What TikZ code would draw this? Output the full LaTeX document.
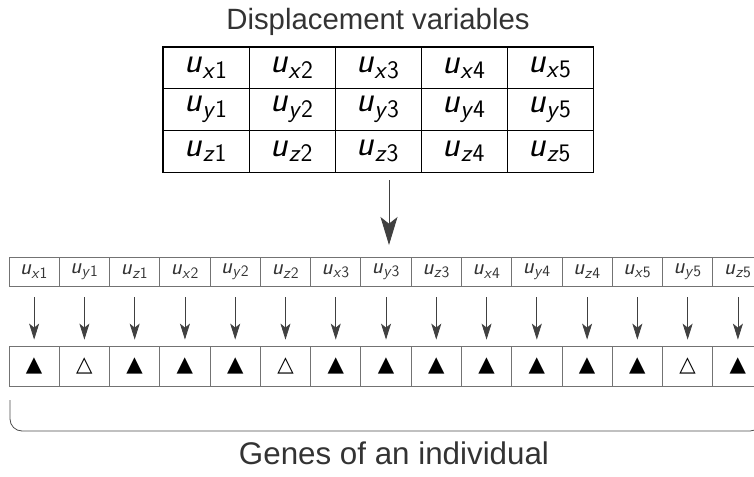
\documentclass[tikz,border=0pt]{standalone}
\usepackage{fontspec}
\setmainfont{Liberation Sans}
\newfontfamily\symfont{DejaVu Sans}
\usetikzlibrary{arrows.meta}
\newcommand\uvar[2]{\textsf{\textit{u}}\textsubscript{\textsf{\textit{#1}#2}}}
\begin{document}
\begin{tikzpicture}[x=0.75pt,y=-0.75pt,
  tcell/.style={draw=black,line width=0.6pt,minimum width=64.5pt,minimum height=31.25pt,inner sep=0pt,font=\fontsize{27}{29}\selectfont},
  gcell/.style={draw=black!55,line width=0.6pt,minimum width=37.7pt,minimum height=21.75pt,inner sep=0pt,font=\fontsize{17}{19}\selectfont,text=black!80},
  bcell/.style={draw=black!55,line width=0.6pt,minimum width=37.7pt,minimum height=30pt,inner sep=0pt,font=\symfont\fontsize{16}{18}\selectfont},
  arr/.style={draw=black!75,line width=0.6pt,-{Stealth[length=12pt,width=7.5pt,inset=3pt]}},
  bigarr/.style={draw=black!75,line width=0.7pt,-{Stealth[length=21pt,width=12.75pt,inset=5pt]}},
  bigtext/.style={text=black!80,inner sep=0pt,anchor=base}
]
\useasboundingbox (0,0) rectangle (754,476);
\clip (0,0) rectangle (754,476);
\node[bigtext,font=\fontsize{22}{26}\selectfont] (title) at (378,29) {Displacement variables};
% table
\foreach \c in {1,...,5}
  \foreach [count=\r] \d in {x,y,z}
    \node[tcell] (t\d\c) at ({163+86*(\c-0.5)},{47+41.667*(\r-0.5)}) {\uvar{\d}{\c}};
\draw[line width=1.2pt] (tx1.north west) rectangle (tz5.south east);
% big arrow
\coordinate (a0) at (389,180);
\coordinate (a1) at (389,245);
\draw[bigarr] (a0) -- (a1);
% strip
\foreach [count=\i] \d/\n in {x/1,y/1,z/1,x/2,y/2,z/2,x/3,y/3,z/3,x/4,y/4,z/4,x/5,y/5,z/5}
  \node[gcell] (g\i) at ({9+50.27*(\i-0.5)},271.5) {\uvar{\d}{\n}};
\foreach [count=\i] \s in {▲,△,▲,▲,▲,△,▲,▲,▲,▲,▲,▲,▲,△,▲}
  \node[bcell] (b\i) at ({9+50.27*(\i-0.5)},366) {\s};
\foreach \i in {1,...,15}
  \draw[arr,shorten <=8.25pt,shorten >=4.5pt] (g\i) -- (b\i);
% bracket
\coordinate (brL) at (10,400);
\coordinate (brBL) at (10,431);
\coordinate (brBR) at (762,431);
\coordinate (brR) at (762,400);
\draw[draw=black!70,line width=0.6pt,rounded corners=9pt] (brL) -- (brBL) -- (brBR) -- (brR);
\node[bigtext,font=\fontsize{23.5}{26}\selectfont] (genes) at (394,464) {Genes of an individual};
\end{tikzpicture}
\end{document}
